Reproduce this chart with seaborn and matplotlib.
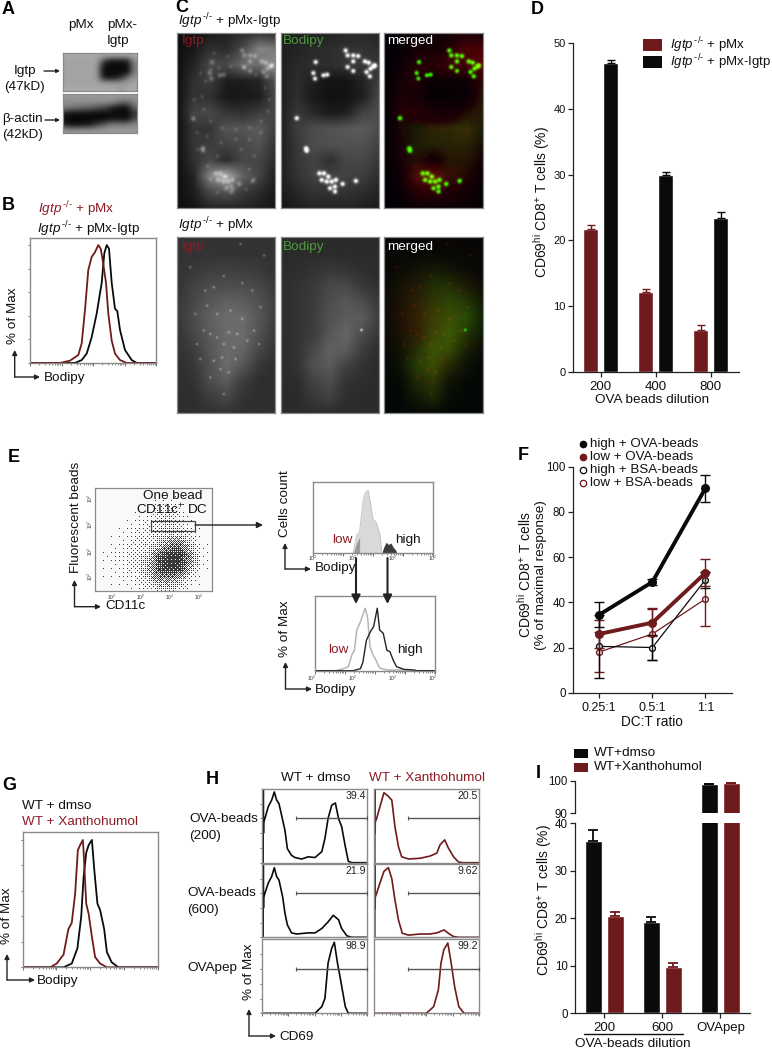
import numpy as np
import pandas as pd
import matplotlib
matplotlib.use("Agg")
import matplotlib.pyplot as plt
from matplotlib.patches import Rectangle
import seaborn as sns

RED = "#6f1a1c"
TXT_RED = "#8c1c26"
BLACK = "#0a0a0a"
FRAME = "#8a8a8a"
W, H = 772, 1050

# ---- panel D
d_dilution = ["200", "400", "800"]
d_pmx = [21.8, 12.1, 6.4]
d_pmx_err = [0.5, 0.5, 0.7]
d_igtp = [47.0, 30.0, 23.4]
d_igtp_err = [0.4, 0.4, 0.9]

# ---- panel F
f_ratio = ["0.25:1", "0.5:1", "1:1"]
f_high_ova = [34.5, 49, 90.5]
f_high_ova_err = [5.5, 1.5, 6]
f_low_ova = [26, 31, 53]
f_low_ova_err = [6, 6, 6]
f_high_bsa = [20.5, 20, 50]
f_high_bsa_err = [14, 5.5, 3.5]
f_low_bsa = [18, 26, 41.5]
f_low_bsa_err = [9, 11.5, 12]

# ---- panel I
i_groups = ["200", "600", "OVApep"]
i_dmso = [36.2, 19.2, 99.0]
i_dmso_err = [2.3, 1.0, 0.1]
i_xan = [20.4, 9.7, 99.3]
i_xan_err = [0.9, 0.9, 0.1]

# ---- histograms, x in % of the axis, y in % of max
b_red_x = [0, 30, 40, 48.3, 51.7, 55, 58.3, 61.7, 65, 68.3, 70.7, 73.3, 76, 78.3, 81.7, 85, 90, 96.7, 126]
b_red_y = [0, 0, 2, 6.8, 16.6, 45, 79, 90, 94, 100, 97, 84, 68, 42, 19, 8, 2.5, 0, 0]
b_blk_x = [0, 45, 51.7, 56.7, 61.7, 66.7, 71.7, 74.3, 76.7, 79, 81.7, 85, 87.3, 90, 95, 101.7, 106.7, 126]
b_blk_y = [0, 0, 2.5, 8, 22, 42, 68, 93, 100, 97, 68, 46, 44, 28, 11, 2.5, 0, 0]

g_red_x = [0, 20.5, 25.4, 30.4, 34, 36.5, 39, 41, 42.7, 44.7, 45.2, 47.2, 49, 51.4, 53.8, 57.5, 62.5, 100]
g_red_y = [0, 0, 3, 10, 30, 35, 58, 92, 96, 100, 92, 50, 42, 24, 8, 3, 0, 0]
g_blk_x = [0, 30.4, 36.5, 40.7, 43.5, 45.2, 47.2, 49, 51.4, 53.3, 55.5, 57.5, 60.5, 62.5, 66, 71, 100]
g_blk_y = [0, 0, 3, 15, 40, 70, 90, 96, 100, 75, 50, 45, 30, 12, 4, 0, 0]

e1_all_x = [33.7, 36.5, 39, 42, 44, 46, 48, 50, 53, 56, 57.5]
e1_all_y = [0, 25, 30, 75, 85, 88, 70, 48, 42, 25, 0]
e1_low_x = [33.7, 36.5, 39]
e1_low_y = [0, 14, 22]
e1_high_x = [57.5, 59, 61, 63, 65, 67, 69, 70]
e1_high_y = [0, 8, 15, 12, 14, 8, 4, 0]

e2_low_x = [0, 17, 24, 28, 31, 33, 35, 38, 42, 44, 46, 48, 51, 54, 60, 82, 85, 100]
e2_low_y = [0, 0, 3, 6, 24, 30, 60, 72, 92, 78, 35, 25, 15, 4, 1, 1, 0, 0]
e2_high_x = [0, 32, 38, 40, 43, 46.5, 49, 52, 54, 57, 60, 62.5, 65.4, 68, 74, 82, 85, 100]
e2_high_y = [0, 0, 3, 12, 45, 58, 65, 92, 60, 55, 30, 28, 15, 6, 2, 1, 0, 0]

# panel H, rows top to bottom, left column then right column
h_spike_x = [0.8, 0.9, 1.0, 1.1, 1.2, 2.5]
h_spike_y = [0, 100, 100, 40, 55, 60]
h1_x = [5.7, 9, 11.5, 13.7, 16, 19.5, 21.7, 24, 28, 31.3, 37.7, 44, 50.5, 57, 60, 63, 66.5, 70, 73, 76, 79.5, 82.4, 85.6, 100]
h1_y = [76, 85, 96, 85, 80, 58, 44, 19, 10, 7, 5, 8, 7, 15, 33, 60, 78, 81, 60, 49, 22, 2, 0, 0]
h2_x = [5.7, 9, 11.5, 13.7, 16, 19.5, 21.7, 24, 28, 33, 44, 50.5, 57, 63, 68, 73, 76, 81, 85.6, 100]
h2_y = [74, 83, 95, 83, 78, 55, 33, 17, 6, 4.5, 6, 6, 12, 21, 30, 24, 12, 2, 0, 0]
h3_x = [0, 50.5, 57, 60, 63, 66.5, 69, 72, 75, 79.5, 82.4, 100]
h3_y = [0, 0, 9, 20, 68, 88, 96, 68, 45, 9, 0, 0]
h4_x = [5.7, 9.5, 13.7, 17, 20, 23.3, 26.4, 33, 44, 53.5, 60, 63, 67.5, 71, 76, 80.6, 85, 100]
h4_y = [76, 95, 90, 85, 49, 22, 8, 5, 6, 9, 13, 24, 31, 20, 8, 1, 0, 0]
h5_x = [5.7, 9.5, 13.7, 17, 20, 23.3, 27, 33, 44, 53.5, 60, 67, 71, 76, 81, 100]
h5_y = [74, 90, 95, 80, 51, 24, 5.5, 3, 4.5, 4.5, 6, 10, 5.5, 1, 0, 0]
h6_x = [0, 50, 57, 61.5, 64, 66.7, 70.5, 73.7, 77, 81, 86, 100]
h6_y = [0, 0, 9, 32, 68, 86, 95, 68, 36, 9, 0, 0]
h_percent = ["39.4", "21.9", "98.9", "20.5", "9.62", "99.2"]

# ---- flow plot density of panel E, rows top to bottom
e_density = [
    [0, 0, 0, 0, 0, 0, 0, 0, 0, 0, 0, 0],
    [0, 0, 0, 0, 0, .01, .03, .03, .02, 0, 0, 0],
    [0, 0, 0, 0, .01, .04, .12, .18, .06, .01, 0, 0],
    [0, 0, 0, .01, .05, .08, .15, .2, .1, .02, 0, 0],
    [0, 0, .01, .04, .08, .12, .15, .2, .18, .07, .01, 0],
    [0, .01, .03, .06, .12, .15, .25, .55, .65, .22, .03, 0],
    [0, .02, .05, .08, .13, .25, .7, .95, .95, .5, .04, 0],
    [0, .02, .04, .07, .13, .3, .8, .95, .9, .35, .03, 0],
    [0, .01, .02, .04, .08, .2, .45, .5, .3, .07, .01, 0],
    [0, 0, 0, .01, .03, .05, .12, .14, .06, .01, 0, 0],
]

# ---- western blots
blot_igtp = [
    [.66, .66, .66, .66, .66, .66, .66, .66, .66, .66, .66, .66],
    [.64, .64, .64, .64, .64, .64, .30, .08, .06, .06, .10, .55],
    [.64, .64, .64, .64, .64, .62, .08, .04, .04, .04, .05, .50],
    [.64, .64, .64, .64, .64, .62, .06, .04, .04, .04, .05, .50],
    [.64, .64, .64, .64, .64, .62, .12, .06, .08, .20, .45, .60],
    [.64, .64, .64, .64, .64, .64, .60, .60, .60, .60, .62, .64],
    [.66, .66, .66, .66, .66, .66, .66, .66, .66, .60, .66, .66],
]
blot_actin = [
    [.60, .60, .60, .60, .60, .60, .60, .60, .60, .60, .60, .60],
    [.55, .55, .55, .55, .55, .55, .55, .55, .50, .40, .40, .52],
    [.50, .45, .42, .40, .36, .30, .26, .18, .06, .04, .05, .40],
    [.08, .04, .04, .04, .04, .04, .04, .05, .05, .04, .04, .20],
    [.05, .03, .03, .03, .03, .03, .03, .05, .08, .05, .05, .30],
    [.12, .04, .05, .08, .12, .25, .35, .48, .50, .50, .50, .55],
    [.60, .58, .60, .60, .60, .60, .60, .60, .60, .60, .60, .60],
]

# ---- micrographs, coarse grey levels
top_igtp = [
    [.06, .07, .10, .14, .18, .22, .18],
    [.06, .10, .20, .18, .30, .55, .50],
    [.06, .15, .30, .30, .45, .45, .60],
    [.06, .20, .25, .12, .12, .15, .35],
    [.06, .22, .20, .10, .10, .12, .30],
    [.06, .28, .30, .22, .20, .25, .30],
    [.06, .22, .22, .35, .35, .38, .25],
    [.06, .22, .25, .28, .30, .35, .20],
    [.06, .20, .30, .18, .30, .28, .18],
    [.06, .15, .55, .70, .40, .28, .12],
    [.06, .12, .30, .35, .25, .18, .10],
    [.06, .08, .15, .15, .15, .12, .08],
]
top_bodipy = [
    [.10, .12, .12, .14, .15, .16, .14],
    [.12, .14, .16, .18, .20, .20, .18],
    [.12, .16, .18, .18, .20, .22, .20],
    [.12, .18, .12, .08, .08, .14, .24],
    [.12, .18, .10, .07, .07, .12, .28],
    [.12, .22, .16, .10, .12, .26, .30],
    [.12, .24, .30, .32, .34, .36, .30],
    [.12, .22, .30, .32, .32, .32, .26],
    [.12, .22, .26, .18, .28, .28, .22],
    [.12, .20, .26, .26, .26, .24, .18],
    [.10, .16, .20, .20, .20, .18, .14],
    [.08, .12, .14, .14, .14, .12, .10],
]
bot_igtp = [
    [.20, .20, .20, .20, .20, .20, .20],
    [.20, .20, .20, .20, .20, .20, .20],
    [.20, .22, .24, .25, .24, .22, .20],
    [.20, .26, .30, .30, .30, .28, .22],
    [.22, .28, .34, .38, .36, .32, .24],
    [.22, .30, .38, .42, .42, .34, .24],
    [.20, .28, .36, .42, .42, .32, .22],
    [.20, .24, .34, .42, .40, .28, .20],
    [.18, .22, .32, .42, .34, .22, .18],
    [.18, .20, .30, .36, .24, .18, .18],
    [.18, .18, .24, .28, .20, .18, .18],
    [.18, .18, .20, .20, .18, .18, .18],
]
bot_bodipy = [
    [.17, .17, .17, .17, .17, .17, .17],
    [.17, .17, .17, .17, .17, .17, .17],
    [.17, .18, .20, .22, .20, .18, .17],
    [.18, .20, .22, .28, .28, .22, .18],
    [.18, .20, .24, .30, .34, .30, .22],
    [.18, .20, .24, .32, .36, .36, .24],
    [.18, .20, .24, .34, .40, .30, .22],
    [.17, .20, .28, .38, .36, .24, .18],
    [.17, .20, .32, .36, .26, .20, .17],
    [.17, .18, .26, .30, .20, .18, .17],
    [.17, .17, .22, .26, .18, .17, .17],
    [.17, .17, .18, .18, .17, .17, .17],
]
# beads in the pMx-Igtp cell
bead_x = [194, 200, 217, 232, 217, 200, 217, 252, 264, 279, 269, 257, 267, 282,
          104, 97, 102, 127, 139, 47, 75, 77,
          115, 129, 142, 122, 137, 152, 162, 147, 162, 165, 185, 225]
bead_y = [52, 67, 67, 69, 85, 102, 114, 85, 89, 100, 107, 117, 130, 97,
          87, 120, 137, 127, 125, 256, 347, 354,
          422, 422, 432, 442, 447, 447, 462, 467, 477, 442, 454, 445]
# Igtp granules along the nucleus and the cell body
er_x = [100, 125, 160, 200, 235, 262, 275, 270, 250, 215, 175, 135, 100, 80, 75, 85,
        50, 60, 90, 130, 175, 215, 250, 80, 60, 120, 190, 230, 215, 230, 205, 90, 100, 170, 120, 70, 110, 150, 50]
er_y = [110, 105, 100, 105, 125, 165, 200, 235, 265, 285, 290, 285, 265, 230, 190, 145,
        260, 300, 310, 330, 320, 320, 300, 345, 350, 370, 350, 370, 410, 440, 470, 400, 440, 470, 480, 120, 60, 70, 200]
# puncta in the pMx cell
dot_x = [139, 194, 224, 109, 84, 54, 89, 119, 159, 194, 229, 154, 99, 59, 169, 134,
         109, 69, 154, 99, 139, 189, 259, 39, 209, 244, 139, 119, 179, 249, 79, 129, 174]
dot_y = [117, 138, 160, 150, 160, 230, 205, 230, 220, 245, 280, 285, 290, 320, 330, 360,
         370, 365, 405, 420, 470, 20, 55, 90, 310, 320, 320, 300, 290, 210, 280, 395, 365]


def upsample(grid, h=527, w=295):
    grid = np.array(grid, float)
    yy = np.linspace(0, grid.shape[0] - 1, h)
    xx = np.linspace(0, grid.shape[1] - 1, w)
    by_col = np.array([np.interp(yy, np.arange(grid.shape[0]), grid[:, c]) for c in range(grid.shape[1])]).T
    return np.array([np.interp(xx, np.arange(grid.shape[1]), r) for r in by_col])


def spots(xs, ys, sigma, amp, h=527, w=295):
    yy, xx = np.mgrid[0:h, 0:w]
    out = np.zeros((h, w))
    for x, y in zip(xs, ys):
        out += amp * np.exp(-((xx - x) ** 2 + (yy - y) ** 2) / (2 * sigma ** 2))
    return out


def halftone(grid, h, w):
    # ordered dither so that the density reads as dots
    b = np.array([[0]])
    for _ in range(3):
        b = np.block([[4 * b, 4 * b + 2], [4 * b + 3, 4 * b + 1]])
    b = (b + 0.5) / 64
    thresh = np.tile(b, (h // 8 + 1, w // 8 + 1))[:h, :w]
    return np.where(upsample(grid, h, w) > thresh, 0.22, 0.98)


sns.set_theme(style="ticks")
plt.rcParams["font.family"] = ["Liberation Sans", "DejaVu Sans"]
plt.rcParams["mathtext.fontset"] = "custom"
plt.rcParams["mathtext.rm"] = "Liberation Sans"
plt.rcParams["mathtext.it"] = "Liberation Sans:italic"
plt.rcParams["mathtext.bf"] = "Liberation Sans:bold"
plt.rcParams["axes.linewidth"] = 0.9

fig = plt.figure(figsize=(W / 100, H / 100), dpi=100, facecolor="white")


def box(x0, y0, x1, y1):
    return fig.add_axes([x0 / W, 1 - y1 / H, (x1 - x0) / W, (y1 - y0) / H])


over = fig.add_axes([0, 0, 1, 1], zorder=10)
over.set_xlim(0, W)
over.set_ylim(H, 0)
over.axis("off")
over.patch.set_alpha(0)


def txt(x, y, s, size=9.7, color="#111111", ha="left", rot=0, **kw):
    over.text(x, y, s, fontsize=size, color=color, ha=ha, va="center", rotation=rot,
              rotation_mode="anchor" if rot == 0 else "default", **kw)


def arrow(x0, y0, x1, y1, lw=1.0, ms=7, color="#222222"):
    over.annotate("", xy=(x1, y1), xytext=(x0, y0),
                  arrowprops=dict(arrowstyle="-|>", lw=lw, color=color, mutation_scale=ms,
                                  shrinkA=0, shrinkB=0))


def l_arrow(x, y_top, y_corner, x_right):
    arrow(x, y_corner, x, y_top)
    arrow(x, y_corner, x_right, y_corner)


def image(bounds, data, interp="bicubic", **kw):
    ax = box(*bounds)
    ax.imshow(data, aspect="auto", interpolation=interp, **kw)
    ax.set_xticks([])
    ax.set_yticks([])
    for s in ax.spines.values():
        s.set_color(FRAME)
        s.set_linewidth(0.9)
    return ax


def flow_axes(bounds, xlim, ylim, ticks=True, left=True):
    ax = box(*bounds)
    ax.set_xlim(*xlim)
    ax.set_ylim(*ylim)
    for s in ax.spines.values():
        s.set_color(FRAME)
        s.set_linewidth(1.0)
    ax.set_xticklabels([])
    ax.set_yticklabels([])
    if ticks:
        span = xlim[1] - xlim[0]
        major = [span * i / 4 for i in range(5)]
        minor = [span * (i + np.log10(m)) / 4 for i in range(4) for m in range(2, 10)]
        ax.set_xticks(major)
        ax.set_xticks(minor, minor=True)
        ax.tick_params(axis="x", which="major", length=2.5, width=0.5, color="#333333", pad=1)
        ax.tick_params(axis="x", which="minor", length=1.2, width=0.4, color="#333333")
    else:
        ax.set_xticks([])
    if left:
        ax.set_yticks(np.arange(0, ylim[1], 20))
        ax.tick_params(axis="y", length=1.5, width=0.5, color="#333333", pad=1)
    else:
        ax.set_yticks([])
    ax.set_xlabel("")
    ax.set_ylabel("")
    return ax


def curve(ax, xs, ys, color, lw=1.3):
    sns.lineplot(x=xs, y=ys, ax=ax, color=color, lw=lw, estimator=None, sort=False, legend=False)
    ax.set_xlabel("")
    ax.set_ylabel("")


def style_axis(ax, size=8):
    sns.despine(ax=ax)
    ax.tick_params(axis="both", length=3.5, width=0.9, color="#222222", labelcolor="#111111",
                   labelsize=size, pad=2)
    for s in ax.spines.values():
        s.set_color("#222222")
    ax.set_xlabel("")
    ax.set_ylabel("")


IGTP = r"$\mathit{Igtp}^{\,\text{-/-}}$"
CD69 = r"CD69$^{\mathrm{hi}}$ CD8$^{+}$ T cells"

# panel letters
for x, y, s in [(2, 10, "A"), (2, 206, "B"), (175, 7, "C"), (531, 9, "D"), (8, 458, "E"),
                (518, 455, "F"), (2, 785, "G"), (206, 779, "H"), (536, 773, "I")]:
    txt(x, y, s, size=13, color="black", fontweight="bold")

# A
image((63, 53, 137, 91), blot_igtp, cmap="gray", vmin=0, vmax=1)
image((63, 94, 137, 133), blot_actin, cmap="gray", vmin=0, vmax=1)
txt(68, 25, "pMx")
txt(107, 25, "pMx-")
txt(107, 41, "Igtp")
txt(14, 71, "Igtp")
txt(4, 87, "(47kD)")
txt(2, 119, "β-actin")
txt(2, 135, "(42kD)")
arrow(44, 71, 60, 71, ms=5)
arrow(45, 120, 60, 120, ms=5)

# B
ax = flow_axes((30, 238, 156, 363), (0, 126), (0, 106))
curve(ax, b_blk_x, b_blk_y, BLACK)
curve(ax, b_red_x, b_red_y, RED)
txt(38, 209, IGTP + " + pMx", color=TXT_RED)
txt(37, 229, IGTP + " + pMx-Igtp")
txt(13, 316, "% of Max", ha="center", rot=90)
l_arrow(14.7, 350, 377, 40)
txt(44, 378, "Bodipy")

# C
ib = upsample(top_igtp) * 0.95 + spots(bead_x, bead_y, 5, 0.22) + spots(er_x, er_y, 3.5, 0.12)
tb = upsample(top_bodipy) + spots(bead_x, bead_y, 4.5, 0.95)
pi = upsample(bot_igtp) + spots(dot_x, dot_y, 2.2, 0.35)
pb = upsample(bot_bodipy) + spots([242], [278], 2.5, 0.7)
top_rgb = np.clip(np.dstack([(ib - 0.06) * 0.65, (tb - 0.24) * 1.3 + 0.03, tb * 0 + 0.02]), 0, 1)
bot_rgb = np.clip(np.dstack([(pi - 0.22) * 0.9 + 0.05, (pb - 0.17) * 1.4 + 0.03, pb * 0 + 0.02]), 0, 1)
for bounds, data in [((177, 33, 275, 208), ib), ((281, 33, 379, 208), tb), ((384, 33, 483, 208), top_rgb),
                     ((177, 237, 275, 413), pi), ((281, 237, 379, 413), pb), ((384, 237, 483, 413), bot_rgb)]:
    image(bounds, np.clip(data, 0, 1), cmap="gray", vmin=0, vmax=1)
txt(178, 21, IGTP + " + pMx-Igtp")
txt(178, 225, IGTP + " + pMx")
for y in (41, 247):
    txt(182, y, "Igtp", color="#8a1c28")
    txt(283, y, "Bodipy", color="#4c9a3c")
    txt(387, y, "merged", color="white")

# D
d_df = pd.DataFrame({
    "dilution": d_dilution * 2,
    "value": d_pmx + d_igtp,
    "group": ["pMx"] * 3 + ["pMx-Igtp"] * 3,
})
ax = box(573.3, 43.3, 739, 371.7)
sns.barplot(data=d_df, x="dilution", y="value", hue="group", palette=[RED, BLACK], saturation=1,
            width=0.727, gap=0.25, legend=False, errorbar=None, ax=ax)
for cont, errs, c in zip(ax.containers, (d_pmx_err, d_igtp_err), (RED, BLACK)):
    for bar, e in zip(cont, errs):
        ax.errorbar(bar.get_x() + bar.get_width() / 2, bar.get_height(), yerr=[[0], [e]],
                    color=c, capsize=3.1, lw=1.0, capthick=1.0)
ax.set_xlim(-0.5, 2.51)
ax.set_ylim(0, 50)
ax.set_yticks(range(0, 51, 10))
style_axis(ax, 8)
ax.tick_params(axis="x", labelsize=9.5, pad=3)
txt(542, 202, CD69 + " (%)", size=10, ha="center", rot=90)
txt(652, 400, "OVA beads dilution", ha="center")
for y, c, s in [(45, RED, " + pMx"), (62, BLACK, " + pMx-Igtp")]:
    over.add_patch(Rectangle((643, y - 6), 19, 12, color=c, lw=0))
    txt(670, y, IGTP + s, size=9.5)

# E
ax = image((95, 488, 212, 591), halftone(e_density, 103, 117), interp="bilinear", cmap="gray", vmin=0, vmax=1)
over.add_patch(Rectangle((151, 521), 44, 9.5, fill=False, ec="#444444", lw=0.9))
txt(76, 517, "Fluorescent beads", ha="center", rot=90)
txt(173, 496, "One bead", ha="center")
txt(172, 510, r"CD11c$^{+}$ DC", ha="center")
arrow(195, 525, 263, 525, ms=9)
l_arrow(74.5, 580, 606.7, 101)
txt(105, 606, "CD11c")
for x in (112, 141, 170, 199):
    txt(x, 597, r"10$^{2}$", size=3.5, color="#333333", ha="center")
for y in (498, 524, 551, 576):
    txt(90, y, r"10$^{2}$", size=3.5, color="#333333", ha="center", rot=90)

ax = flow_axes((312.7, 481.7, 433, 553), (0, 100), (0, 100), left=False)
ax.fill_between(e1_all_x, e1_all_y, color="#d9d9d9", lw=0)
ax.fill_between(e1_low_x, e1_low_y, color="#9a9a9a", lw=0)
ax.fill_between(e1_high_x, e1_high_y, color="#3c3c3c", lw=0)
curve(ax, e1_all_x, e1_all_y, "#c4c4c4", lw=0.7)
txt(285, 504, "Cells count", ha="center", rot=90)
l_arrow(285, 543, 569, 311)
txt(315, 568, "Bodipy")
txt(332, 540, "low", color=TXT_RED)
txt(395, 540, "high")
ax = flow_axes((314.7, 596, 435, 670.7), (0, 100), (0, 110), left=False)
curve(ax, e2_low_x, e2_low_y, "#b5b5b5", lw=1.1)
curve(ax, e2_high_x, e2_high_y, "#222222", lw=1.0)
txt(285, 629, "% of Max", ha="center", rot=90)
l_arrow(285.5, 662, 689, 312)
txt(315, 690, "Bodipy")
txt(328, 650, "low", color=TXT_RED)
txt(397, 650, "high")
arrow(356, 558, 356, 604, lw=1.5, ms=13)
arrow(387.5, 558, 387.5, 604, lw=1.5, ms=13)
for x in (313, 353, 393, 433):
    txt(x, 558.5, r"10$^{2}$", size=3.5, color="#333333", ha="center")
for x in (312, 353, 393, 433):
    txt(x, 678, r"10$^{2}$", size=3.5, color="#333333", ha="center")

# F
ax = box(573.3, 466.7, 732, 692.7)
f_series = [
    (f_low_bsa, f_low_bsa_err, RED, 0.9, "white", 4.2),
    (f_high_bsa, f_high_bsa_err, BLACK, 0.9, "white", 4.2),
    (f_low_ova, f_low_ova_err, RED, 2.8, RED, 5.5),
    (f_high_ova, f_high_ova_err, BLACK, 2.8, BLACK, 5.5),
]
for vals, errs, c, lw, face, ms in f_series:
    sns.lineplot(x=f_ratio, y=vals, ax=ax, color=c, lw=lw, marker="o", markersize=ms,
                 markerfacecolor=face, markeredgecolor=c, markeredgewidth=1.0, legend=False, errorbar=None)
    ax.errorbar(range(3), vals, yerr=errs, fmt="none", ecolor=c, elinewidth=1.0, capsize=3.3, capthick=1.0)
ax.set_xlim(-0.49, 2.5)
ax.set_ylim(0, 100)
ax.set_yticks(range(0, 101, 20))
style_axis(ax, 8.3)
ax.tick_params(axis="x", labelsize=9, pad=3)
txt(652, 722, "DC:T ratio", ha="center", size=9.8)
txt(525, 575, CD69, size=10, ha="center", rot=90)
txt(541, 575, "(% of maximal response)", size=9.7, ha="center", rot=90)
for y, s, c, face in [(444, "high + OVA-beads", BLACK, BLACK), (457, "low + OVA-beads", RED, RED),
                      (470, "high + BSA-beads", BLACK, "white"), (483, "low + BSA-beads", RED, "white")]:
    over.plot([583], [y], "o", ms=4.6, mfc=face, mec=c, mew=0.9)
    txt(590, y, s, size=9.6)

# G
ax = flow_axes((22.5, 831.7, 157.5, 967.3), (0, 100), (0, 106.5))
curve(ax, g_blk_x, g_blk_y, BLACK)
curve(ax, g_red_x, g_red_y, RED)
txt(22, 806, "WT + dmso")
txt(22, 822, "WT + Xanthohumol", color=TXT_RED)
txt(7, 916, "% of Max", ha="center", rot=90)
l_arrow(7, 954, 980, 35)
txt(37, 981, "Bodipy")

# H
cols = [(262.3, 366.7), (374, 478.7)]
rows = [(789, 862.7), (864, 937.3), (939.3, 1013.3)]
h_curves = [
    (h1_x, h1_y, True, 0, 0), (h2_x, h2_y, True, 0, 1), (h3_x, h3_y, False, 0, 2),
    (h4_x, h4_y, True, 1, 0), (h5_x, h5_y, True, 1, 1), (h6_x, h6_y, False, 1, 2),
]
for (xs, ys, spike, c, r), pct in zip(h_curves, h_percent):
    color = BLACK if c == 0 else RED
    ax = flow_axes((cols[c][0], rows[r][0], cols[c][1], rows[r][1]), (0, 100), (0, 100),
                   ticks=r == 2, left=c == 0)
    if spike:
        xs = h_spike_x + xs
        ys = h_spike_y + ys
    curve(ax, xs, ys, color, lw=1.2)
    gate_y = rows[r][0] + 0.4 * (rows[r][1] - rows[r][0])
    x0 = cols[c][0] + 0.32 * (cols[c][1] - cols[c][0])
    over.plot([x0, cols[c][1]], [gate_y, gate_y], color="#555555", lw=1.0, marker="|", ms=3.5, mew=0.8)
    txt(cols[c][1] - 1, rows[r][0] + 7, pct, size=7.6, ha="right", color="#222222")
txt(281, 778, "WT + dmso")
txt(369, 778, "WT + Xanthohumol", color=TXT_RED)
txt(189, 819, "OVA-beads")
txt(189, 836, "(200)")
txt(187, 893, "OVA-beads")
txt(187, 910, "(600)")
txt(187, 968, "OVApep")
txt(249, 972, "% of Max", ha="center", rot=90)
l_arrow(249, 1009, 1036, 276)
txt(279, 1037, "CD69")

# I
i_df = pd.DataFrame({
    "group": i_groups * 2,
    "value": i_dmso + i_xan,
    "treat": ["dmso"] * 3 + ["xan"] * 3,
})
low = box(575.3, 823.3, 750, 1013.3)
high = box(575.3, 780.7, 750, 813.3)
for ax in (low, high):
    sns.barplot(data=i_df, x="group", y="value", hue="treat", palette=[BLACK, RED], saturation=1,
                width=0.76, gap=0.21, legend=False, errorbar=None, ax=ax)
    for cont, errs, c in zip(ax.containers, (i_dmso_err, i_xan_err), (BLACK, RED)):
        for bar, e in zip(cont, errs):
            ax.errorbar(bar.get_x() + bar.get_width() / 2, bar.get_height(), yerr=[[0], [e]],
                        color=c, capsize=3.6, lw=1.3, capthick=1.3)
    ax.set_xlim(-0.5, 2.51)
    style_axis(ax, 8.3)
low.set_ylim(0, 40)
low.set_yticks(range(0, 41, 10))
low.tick_params(axis="x", labelsize=9.5, pad=3)
high.set_ylim(90, 100)
high.set_yticks([90, 100])
high.set_xticks([])
high.spines["bottom"].set_visible(False)
txt(544, 900, CD69 + " (%)", size=10, ha="center", rot=90)
over.plot([584, 682.7], [1034, 1034], color="#111111", lw=1.0)
txt(633, 1044, "OVA-beads dilution", ha="center")
for y, c, s in [(753, BLACK, "WT+dmso"), (767, RED, "WT+Xanthohumol")]:
    over.add_patch(Rectangle((574, y - 4.5), 13.7, 9, color=c, lw=0))
    txt(594, y, s)

fig.savefig("out.png", dpi=100, facecolor="white")
